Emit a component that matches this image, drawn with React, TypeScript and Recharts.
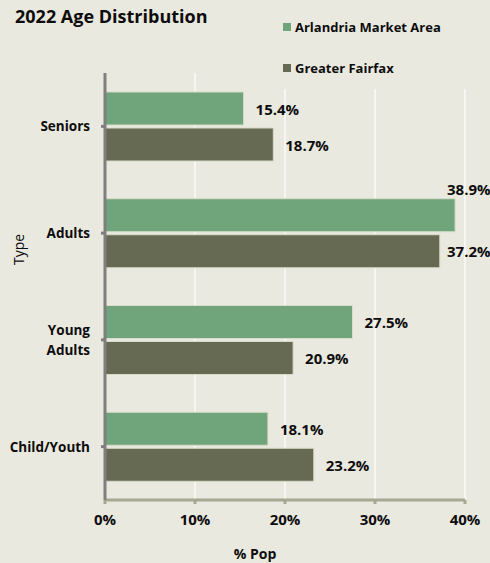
import React from 'react';
import { BarChart, Bar, XAxis, YAxis, CartesianGrid, Legend, LabelList } from 'recharts';

const categories = ['Seniors', 'Adults', 'Young Adults', 'Child/Youth'];
const arlandria = [15.4, 38.9, 27.5, 18.1];
const fairfax = [18.7, 37.2, 20.9, 23.2];
const xTicks = [0, 10, 20, 30, 40];
const seriesNames = ['Arlandria Market Area', 'Greater Fairfax'];

const BG = '#EAE9DF';
const GREEN = '#70A47A';
const DARK = '#666A53';
const FONT = '"Open Sans", "Noto Sans", sans-serif';
const TEXT = '#0D0D0D';

const data = categories.map((c, i) => ({ name: c, a: arlandria[i], f: fairfax[i] }));

const BarLabel = (props: any) => {
  const { x, y, width, height, value } = props;
  const end = x + width;
  let tx = end + 12;
  let ty = y + height / 2;
  if (tx + 44 > 490) {
    tx = 447;
    if (tx < end) ty = y - 10;
  }
  return (
    <text x={tx} y={ty} dominantBaseline="central" fontFamily={FONT} fontWeight={700} fontSize={15} fill={TEXT}>
      {`${Number(value).toFixed(1)}%`}
    </text>
  );
};

const YTick = (props: any) => {
  const { x, y, payload } = props;
  const lines: string[] = payload.value === 'Young Adults' ? ['Young', 'Adults'] : [payload.value];
  const lh = 20;
  return (
    <text x={x} y={y} textAnchor="end" dominantBaseline="central" fontFamily={FONT} fontWeight={700} fontSize={13.5} fill={TEXT}>
      {lines.map((l, i) => (
        <tspan key={i} x={x} dy={i === 0 ? -((lines.length - 1) * lh) / 2 : lh}>{l}</tspan>
      ))}
    </text>
  );
};

const LegendContent = (props: any) => {
  const { payload } = props;
  return (
    <div style={{ position: 'relative', width: 250, height: 89, background: BG }}>
      {(payload || []).map((p: any, i: number) => (
        <div key={i} style={{ position: 'absolute', left: 43, top: 19 + i * 41, height: 16, display: 'flex', alignItems: 'center', fontFamily: FONT, fontWeight: 700, fontSize: 13, color: TEXT, whiteSpace: 'nowrap' }}>
          <span style={{ display: 'inline-block', width: 8, height: 8, background: p.color, marginRight: 4 }} />
          <span>{p.value}</span>
        </div>
      ))}
    </div>
  );
};

export default function App() {
  return (
    <div style={{ position: 'absolute', left: 0, top: 0, width: 490, height: 563, background: BG }}>
      <div style={{ position: 'absolute', left: 15, top: 4, fontFamily: FONT, fontWeight: 700, fontSize: 18, color: TEXT, whiteSpace: 'nowrap', zIndex: 2 }}>
        2022 Age Distribution
      </div>
      <BarChart
        width={490}
        height={563}
        data={data}
        layout="vertical"
        margin={{ top: 73, right: 25, bottom: 33, left: 5 }}
        barCategoryGap={19}
        barGap={3}
      >
        <CartesianGrid horizontal={false} vertical={true} stroke="#FFFFFF" strokeWidth={1.2} />
        <XAxis
          type="number"
          domain={[0, 40]}
          ticks={xTicks}
          tickFormatter={(v: number) => `${v}%`}
          axisLine={{ stroke: '#A6A892', strokeWidth: 3 }}
          tickLine={{ stroke: '#A6A892', strokeWidth: 3 }}
          tickSize={4}
          tick={{ fontFamily: FONT, fontWeight: 700, fontSize: 15, fill: TEXT }}
          tickMargin={10}
          height={30}
          label={(lp: any) => {
            const vb = lp.viewBox;
            return (
              <text x={vb.x + vb.width / 2 - 30} y={553} textAnchor="middle" dominantBaseline="central" fontFamily={FONT} fontWeight={700} fontSize={14} fill={TEXT}>
                % Pop
              </text>
            );
          }}
        />
        <YAxis
          type="category"
          dataKey="name"
          width={100}
          axisLine={{ stroke: '#7F7F7F', strokeWidth: 3 }}
          tickLine={{ stroke: '#7F7F7F', strokeWidth: 3 }}
          tickSize={4}
          tickMargin={11}
          tick={<YTick />}
          label={(lp: any) => {
            const vb = lp.viewBox;
            return (
              <text x={18} y={vb.y + vb.height / 2 - 37} textAnchor="middle" dominantBaseline="central" transform={`rotate(-90, 18, ${vb.y + vb.height / 2 - 37})`} fontFamily={FONT} fontWeight={400} fontSize={14} fill={TEXT}>
                Type
              </text>
            );
          }}
        />
        <Legend
          content={<LegendContent />}
          verticalAlign="top"
          wrapperStyle={{ position: 'absolute', left: 240, top: 0, width: 250, height: 0, overflow: 'visible' }}
        />
        <Bar dataKey="a" name={seriesNames[0]} fill={GREEN} stroke="#D6DDC8" strokeWidth={1} barSize={33} isAnimationActive={false}>
          <LabelList dataKey="a" content={<BarLabel />} />
        </Bar>
        <Bar dataKey="f" name={seriesNames[1]} fill={DARK} stroke="#D6DDC8" strokeWidth={1} barSize={33} isAnimationActive={false}>
          <LabelList dataKey="f" content={<BarLabel />} />
        </Bar>
      </BarChart>
    </div>
  );
}
